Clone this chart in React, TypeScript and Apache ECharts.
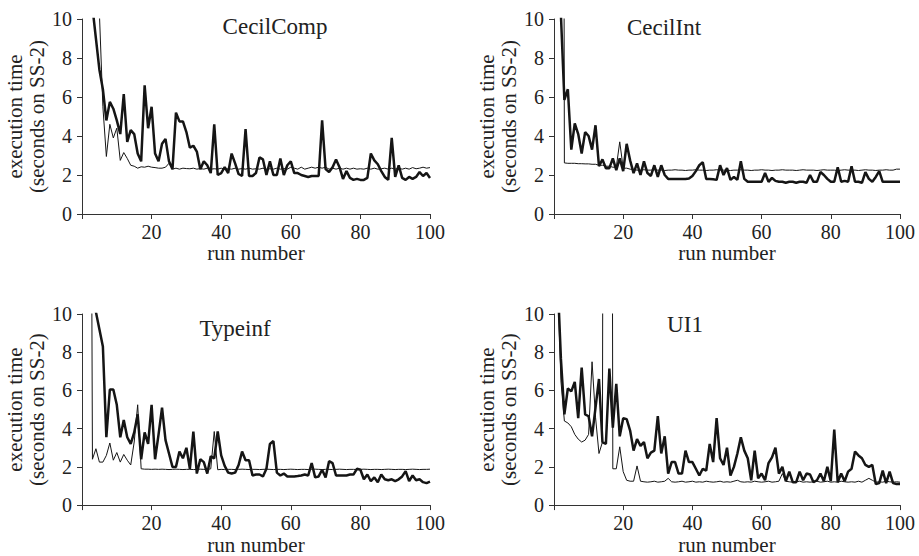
import React, { useEffect, useRef } from "react";
import * as echarts from "echarts";

// run numbers 1..100
const runs: number[] = Array.from({ length: 100 }, (_, i) => i + 1);

const titles = ["CecilComp", "CecilInt", "Typeinf", "UI1"];
const xTicks = [20, 40, 60, 80, 100];
const yTicks = [0, 2, 4, 6, 8, 10];

// CecilComp
const ccThick = [
  20, 15, 10.6, 9.0, 7.4, 6.4, 4.8, 5.75, 5.4, 4.8,
  4.1, 6.15, 3.7, 4.3, 4.1, 3.1, 2.7, 6.6, 4.4, 5.5,
  3.1, 2.7, 3.6, 3.85, 2.7, 2.3, 5.2, 4.75, 4.75, 4.2,
  3.4, 3.5, 3.2, 2.3, 2.7, 2.5, 2.1, 4.6, 2.0, 2.1,
  2.4, 2.1, 3.1, 2.6, 2.05, 1.95, 4.35, 1.95, 1.95, 2.1,
  2.9, 2.8, 2.0, 2.7, 2.0, 2.0, 2.85, 2.0, 2.5, 2.7,
  2.1, 2.1, 2.0, 1.95, 1.9, 1.95, 1.95, 1.95, 4.8, 2.3,
  2.15, 2.4, 2.8, 2.4, 1.8, 2.2, 1.85, 1.75, 1.8, 1.75,
  1.75, 1.85, 3.1, 2.75, 2.55, 2.2, 1.9, 1.75, 3.9, 1.9,
  2.5, 1.85, 1.75, 1.9, 1.8, 1.9, 2.15, 1.95, 2.1, 1.85,
];
const ccThin = [
  30, 25, 20, 15, 10.3, 5.5, 2.95, 4.6, 3.9, 4.4,
  2.75, 3.15, 2.85, 2.5, 2.45, 2.35, 2.42, 2.4, 2.45, 2.4,
  2.38, 2.35, 2.35, 2.4, 2.6, 2.3, 2.35, 2.3, 2.35, 2.33,
  2.32, 2.35, 2.3, 2.33, 2.3, 2.35, 2.3, 2.32, 2.3, 2.35,
  2.3, 2.32, 2.3, 2.35, 2.3, 2.33, 2.3, 2.35, 2.3, 2.32,
  2.3, 2.35, 2.3, 2.32, 2.3, 2.35, 2.3, 2.33, 2.3, 2.4,
  2.35, 2.3, 2.4, 2.3, 2.35, 2.4, 2.35, 2.4, 2.35, 2.4,
  2.3, 2.35, 2.3, 2.35, 2.3, 2.35, 2.3, 2.35, 2.3, 2.32,
  2.3, 2.35, 2.3, 2.35, 2.3, 2.32, 2.35, 2.3, 2.35, 2.3,
  2.35, 2.3, 2.35, 2.3, 2.38, 2.32, 2.35, 2.4, 2.35, 2.38,
];

// CecilInt
const ciThick = [
  20, 10.2, 5.85, 6.4, 3.3, 4.65, 4.1, 3.1, 4.2, 4.0,
  3.3, 4.55, 2.45, 2.8, 2.35, 2.35, 2.85, 2.25, 2.85, 2.2,
  3.6, 2.75, 2.1, 2.6, 2.0, 2.7, 2.1, 1.95, 2.5, 1.9,
  2.5, 2.0, 1.8, 1.8, 1.8, 1.8, 1.8, 1.8, 1.82, 1.95,
  2.2, 2.5, 2.65, 1.8, 1.8, 1.78, 1.75, 2.5, 2.0, 2.35,
  1.75, 1.9, 1.75, 2.7, 1.8, 1.65, 1.65, 1.65, 1.65, 1.65,
  2.1, 1.65, 1.85, 1.7, 1.65, 1.65, 1.6, 1.65, 1.65, 1.6,
  1.65, 1.65, 1.6, 2.0, 1.65, 1.65, 2.15, 2.0, 1.8, 1.65,
  1.65, 2.4, 1.65, 1.7, 1.65, 2.45, 1.65, 1.65, 1.6, 2.15,
  1.8, 1.65, 1.9, 2.2, 1.65, 1.65, 1.65, 1.65, 1.65, 1.65,
];
const ciThin = [
  100, 100, 2.62, 2.6, 2.6, 2.6, 2.58, 2.58, 2.57, 2.57,
  2.55, 2.55, 2.5, 2.5, 2.45, 2.45, 2.4, 2.4, 3.7, 2.35,
  2.35, 2.3, 2.28, 2.25, 2.25, 2.27, 2.25, 2.25, 2.27, 2.25,
  2.25, 2.23, 2.25, 2.25, 2.27, 2.25, 2.25, 2.23, 2.25, 2.25,
  2.27, 2.25, 2.25, 2.23, 2.25, 2.25, 2.27, 2.25, 2.25, 2.25,
  2.23, 2.25, 2.25, 2.27, 2.25, 2.25, 2.23, 2.25, 2.25, 2.27,
  2.25, 2.25, 2.23, 2.25, 2.25, 2.27, 2.25, 2.25, 2.25, 2.23,
  2.25, 2.27, 2.25, 2.25, 2.25, 2.23, 2.25, 2.27, 2.25, 2.25,
  2.25, 2.23, 2.25, 2.27, 2.25, 2.25, 2.25, 2.23, 2.25, 2.27,
  2.25, 2.25, 2.23, 2.25, 2.25, 2.27, 2.25, 2.25, 2.3, 2.3,
];

// Typeinf
const tiThick = [
  30, 20, 14, 10.1, 9.2, 8.3, 3.55, 6.05, 6.05, 5.25,
  3.55, 4.45, 3.55, 3.2, 3.8, 4.75, 2.4, 3.8, 3.2, 5.25,
  2.4, 3.7, 5.1, 3.4, 2.7, 2.0, 2.0, 2.8, 2.45, 3.0,
  1.9, 3.85, 1.65, 2.4, 2.25, 1.65, 2.55, 2.45, 3.85, 2.6,
  2.05, 1.7, 1.65, 1.7, 2.1, 2.8, 2.35, 2.35, 1.55, 1.6,
  1.6, 1.5, 1.9, 3.2, 3.35, 1.7, 1.55, 1.65, 1.5, 1.5,
  1.5, 1.52, 1.55, 1.6, 1.55, 2.2, 1.45, 1.5, 1.85, 1.45,
  2.3, 2.2, 1.55, 1.55, 1.55, 1.55, 1.6, 1.6, 1.9, 1.85,
  1.35, 1.6, 1.25, 1.45, 1.2, 1.6, 1.35, 1.3, 1.35, 1.25,
  1.35, 1.5, 1.78, 1.25, 1.55, 1.3, 1.35, 1.2, 1.15, 1.23,
];
const tiThin = [
  60, 50, 2.4, 2.95, 2.25, 2.25, 2.6, 3.25, 2.35, 2.75,
  2.25, 2.65, 2.35, 2.1, 3.3, 5.25, 1.9, 1.88, 1.88, 1.87,
  1.88, 1.87, 1.88, 1.87, 1.86, 1.87, 1.88, 1.87, 1.86, 1.87,
  1.87, 1.86, 1.87, 1.88, 1.87, 1.86, 1.9, 3.85, 1.85, 1.87,
  1.86, 1.87, 1.87, 1.86, 1.87, 1.88, 1.87, 1.86, 1.87, 1.87,
  1.86, 1.87, 1.88, 1.87, 1.86, 1.87, 1.87, 1.86, 1.87, 1.88,
  1.87, 1.86, 1.87, 1.87, 1.86, 1.87, 1.88, 1.87, 1.86, 1.87,
  1.87, 1.86, 1.87, 1.88, 1.87, 1.86, 1.87, 1.87, 1.86, 1.87,
  1.88, 1.87, 1.86, 1.87, 1.87, 1.86, 1.87, 1.88, 1.87, 1.86,
  1.87, 1.87, 1.86, 1.87, 1.88, 1.87, 1.86, 1.87, 1.87, 1.88,
];

// UI1
const uiThick = [
  12, 7.65, 4.75, 6.1, 5.95, 6.45, 4.55, 7.2, 4.75, 4.65,
  3.6, 5.1, 6.6, 3.3, 3.2, 7.15, 4.05, 6.35, 3.6, 4.55,
  4.5, 3.9, 2.85, 3.45, 3.1, 3.3, 2.45, 2.75, 2.85, 4.65,
  2.7, 3.6, 1.65, 2.25, 2.25, 1.65, 1.65, 2.85, 2.25, 2.25,
  1.9, 1.55, 1.9, 1.8, 3.2, 2.25, 4.55, 2.45, 2.1, 3.0,
  1.55, 2.0, 2.7, 3.55, 2.85, 2.45, 1.3, 2.85, 1.4, 1.65,
  1.3, 2.2, 2.5, 3.0, 1.65, 2.0, 1.25, 1.75, 1.2, 1.2,
  1.75, 1.3, 1.65, 1.6, 1.2, 1.3, 1.65, 1.25, 2.0, 1.25,
  3.95, 1.2, 1.65, 1.25, 1.75, 1.9, 2.8, 2.6, 2.45, 2.1,
  2.0, 2.1, 1.1, 1.15, 1.8, 1.15, 1.75, 1.15, 1.1, 1.1,
];
const uiThin = [
  12, 6.5, 4.4, 4.3, 4.1, 3.7, 3.45, 3.3, 3.4, 3.7,
  7.5, 4.6, 2.7, 3.3, 100, 100, 1.9, 1.9, 3.05, 1.75,
  1.3, 1.25, 1.25, 2.05, 1.25, 1.22, 1.2, 1.22, 1.25, 1.2,
  1.22, 1.25, 1.4, 1.22, 1.2, 1.22, 1.25, 1.2, 1.22, 1.25,
  1.2, 1.22, 1.2, 1.25, 1.22, 1.2, 1.22, 1.25, 1.2, 1.22,
  1.2, 1.25, 1.3, 1.22, 1.2, 1.22, 1.2, 1.25, 1.22, 1.2,
  1.22, 1.25, 1.2, 1.22, 1.25, 1.65, 1.25, 1.22, 1.2, 1.22,
  1.25, 1.2, 1.22, 1.2, 1.22, 1.25, 1.2, 1.22, 1.25, 1.2,
  1.22, 1.2, 1.25, 1.22, 1.2, 1.22, 1.2, 1.25, 1.2, 1.3,
  1.4, 1.3, 1.2, 1.22, 1.2, 1.25, 1.22, 1.2, 1.22, 1.2,
];

const thickSeries = [ccThick, ciThick, tiThick, uiThick];
const thinSeries = [ccThin, ciThin, tiThin, uiThin];

const FONT = "Liberation Serif";
const TEXT = "#222";
const AXIS = "#333";
const LINE = "#151515";

const grids = [
  { left: 82, top: 19, width: 348, height: 195 },
  { left: 554, top: 19, width: 346, height: 195 },
  { left: 82, top: 314, width: 348, height: 195 },
  { left: 554, top: 314, width: 346, height: 195 },
];
const titlePos = [
  { x: 275, y: 26 },
  { x: 664, y: 27 },
  { x: 235, y: 328 },
  { x: 685, y: 324 },
];

export default function App() {
  const ref = useRef<HTMLDivElement>(null);
  useEffect(() => {
    if (!ref.current) return;
    const chart = echarts.init(ref.current, undefined, { renderer: "svg" });
    const pair = (vals: number[]) => runs.map((r, i) => [r, vals[i]]);
    const option: any = {
      animation: false,
      backgroundColor: "#fff",
      grid: grids.map((g) => ({ ...g, containLabel: false })),
      xAxis: grids.map((_, i) => ({
        gridIndex: i,
        type: "value",
        min: 0,
        max: 100,
        interval: 20,
        axisLine: { show: true, lineStyle: { color: AXIS, width: 1 } },
        axisTick: { show: true, length: 5, lineStyle: { color: AXIS, width: 1 } },
        axisLabel: {
          fontFamily: FONT,
          fontSize: 20,
          color: TEXT,
          margin: 8,
          formatter: (v: number) => (xTicks.indexOf(v) >= 0 ? String(v) : ""),
        },
        splitLine: { show: false },
        name: "run number",
        nameLocation: "middle",
        nameGap: 26,
        nameTextStyle: { fontFamily: FONT, fontSize: 21, color: TEXT },
      })),
      yAxis: grids.map((_, i) => ({
        gridIndex: i,
        type: "value",
        min: 0,
        max: 10,
        interval: 2,
        axisLine: { show: true, lineStyle: { color: AXIS, width: 1 } },
        axisTick: { show: true, length: 5, lineStyle: { color: AXIS, width: 1 } },
        axisLabel: {
          fontFamily: FONT,
          fontSize: 20,
          color: TEXT,
          margin: 10,
          formatter: (v: number) => (yTicks.indexOf(v) >= 0 ? String(v) : ""),
        },
        splitLine: { show: false },
        name: "execution time\n(seconds on SS-2)",
        nameLocation: "middle",
        nameGap: 31,
        nameTextStyle: { fontFamily: FONT, fontSize: 21, lineHeight: 22, color: TEXT },
      })),
      series: [
        ...thinSeries.map((vals, i) => ({
          type: "line",
          xAxisIndex: i,
          yAxisIndex: i,
          data: pair(vals),
          symbol: "none",
          showSymbol: false,
          clip: true,
          lineStyle: { color: LINE, width: 1 },
          z: 2,
        })),
        ...thickSeries.map((vals, i) => ({
          type: "line",
          xAxisIndex: i,
          yAxisIndex: i,
          data: pair(vals),
          symbol: "none",
          showSymbol: false,
          clip: true,
          lineStyle: { color: LINE, width: 2.5 },
          z: 3,
        })),
      ],
      graphic: titles.map((t, i) => ({
        type: "text",
        x: titlePos[i].x,
        y: titlePos[i].y,
        style: {
          text: t,
          fontFamily: FONT,
          fontSize: 23,
          fill: TEXT,
          align: "center",
          verticalAlign: "middle",
        },
      })),
    };
    chart.setOption(option);
    return () => chart.dispose();
  }, []);
  return (
    <div
      ref={ref}
      style={{ position: "fixed", left: 0, top: 0, width: 919, height: 556, background: "#fff" }}
    />
  );
}
